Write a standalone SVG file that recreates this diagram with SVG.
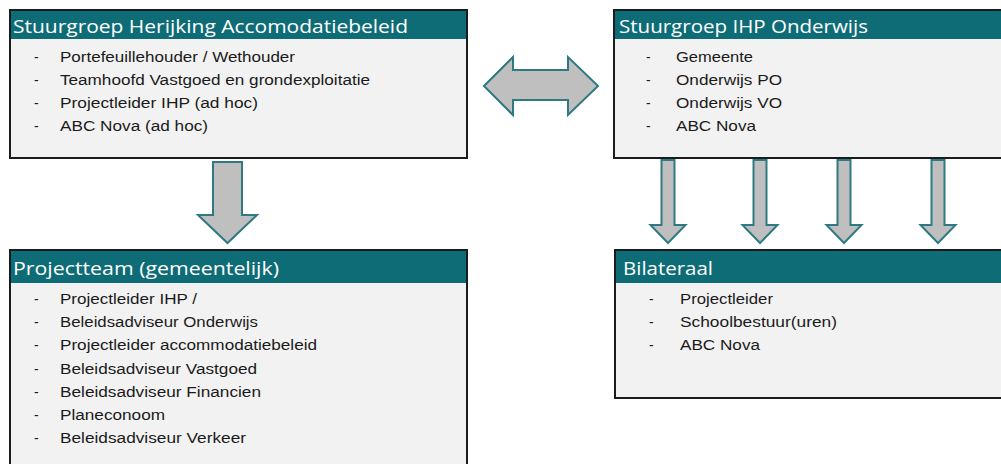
<svg xmlns="http://www.w3.org/2000/svg" width="1001" height="464" viewBox="0 0 1001 464">
<style>
.box{fill:#f2f2f2;stroke:#1c1c1c;stroke-width:2}
.hdr{fill:#0e6c76}
.ht{font-family:"Open Sans","Liberation Sans",sans-serif;font-size:18px;fill:#ffffff}
.it{font-family:"Liberation Sans",Arial,sans-serif;font-size:14px;fill:#1a1a1a}
.arr{fill:#bfbfbf;stroke:#2f7a82;stroke-width:2;stroke-linejoin:miter}
</style>
<rect width="1001" height="464" fill="#ffffff"/>
<g id="connectors">
<polygon class="arr" points="484,86 513,57 513,70 568,70 568,57 598,86 568,115 568,100 513,100 513,115"/>
<polygon class="arr" points="213,162 242,162 242,215 257,215 227.5,243 198,215 213,215"/>
<polygon class="arr" points="661.5,160 674.5,160 674.5,225 685.5,225 668,243 650.5,225 661.5,225"/>
<polygon class="arr" points="753.5,160 766.5,160 766.5,225 777.5,225 760,243 742.5,225 753.5,225"/>
<polygon class="arr" points="837.5,160 850.5,160 850.5,225 861.5,225 844,243 826.5,225 837.5,225"/>
<polygon class="arr" points="931.5,160 944.5,160 944.5,225 955.5,225 938,243 920.5,225 931.5,225"/>
</g>
<g id="stuurgroep-herijking">
<rect class="box" x="10" y="10" width="457" height="148"/>
<rect class="hdr" x="11" y="11" width="455" height="28"/>
<text class="ht" x="13" y="33" textLength="395" lengthAdjust="spacingAndGlyphs">Stuurgroep Herijking Accomodatiebeleid</text>
<text class="it" x="34" y="61.5">-</text><text class="it" x="60" y="61.5" textLength="235" lengthAdjust="spacingAndGlyphs">Portefeuillehouder / Wethouder</text>
<text class="it" x="34" y="85">-</text><text class="it" x="60" y="85" textLength="310" lengthAdjust="spacingAndGlyphs">Teamhoofd Vastgoed en grondexploitatie</text>
<text class="it" x="34" y="108">-</text><text class="it" x="60" y="108" textLength="198" lengthAdjust="spacingAndGlyphs">Projectleider IHP (ad hoc)</text>
<text class="it" x="34" y="131">-</text><text class="it" x="60" y="131" textLength="148" lengthAdjust="spacingAndGlyphs">ABC Nova (ad hoc)</text>
</g>
<g id="stuurgroep-ihp">
<rect class="box" x="614" y="10" width="400" height="148"/>
<rect class="hdr" x="615" y="11" width="398" height="28"/>
<text class="ht" x="619" y="33" textLength="249" lengthAdjust="spacingAndGlyphs">Stuurgroep IHP Onderwijs</text>
<text class="it" x="646" y="61.5">-</text><text class="it" x="676" y="61.5" textLength="77" lengthAdjust="spacingAndGlyphs">Gemeente</text>
<text class="it" x="646" y="85">-</text><text class="it" x="676" y="85" textLength="106" lengthAdjust="spacingAndGlyphs">Onderwijs PO</text>
<text class="it" x="646" y="108">-</text><text class="it" x="676" y="108" textLength="106" lengthAdjust="spacingAndGlyphs">Onderwijs VO</text>
<text class="it" x="646" y="131">-</text><text class="it" x="676" y="131" textLength="80" lengthAdjust="spacingAndGlyphs">ABC Nova</text>
</g>
<g id="projectteam">
<rect class="box" x="10" y="250" width="457" height="230"/>
<rect class="hdr" x="11" y="251" width="455" height="32"/>
<text class="ht" x="13" y="275" textLength="266" lengthAdjust="spacingAndGlyphs">Projectteam (gemeentelijk)</text>
<text class="it" x="34" y="304">-</text><text class="it" x="60" y="304" textLength="137" lengthAdjust="spacingAndGlyphs">Projectleider IHP /</text>
<text class="it" x="34" y="327">-</text><text class="it" x="60" y="327" textLength="198" lengthAdjust="spacingAndGlyphs">Beleidsadviseur Onderwijs</text>
<text class="it" x="34" y="350">-</text><text class="it" x="60" y="350" textLength="257" lengthAdjust="spacingAndGlyphs">Projectleider accommodatiebeleid</text>
<text class="it" x="34" y="373.5">-</text><text class="it" x="60" y="373.5" textLength="197" lengthAdjust="spacingAndGlyphs">Beleidsadviseur Vastgoed</text>
<text class="it" x="34" y="396.5">-</text><text class="it" x="60" y="396.5" textLength="201" lengthAdjust="spacingAndGlyphs">Beleidsadviseur Financien</text>
<text class="it" x="34" y="420">-</text><text class="it" x="60" y="420" textLength="105" lengthAdjust="spacingAndGlyphs">Planeconoom</text>
<text class="it" x="34" y="443">-</text><text class="it" x="60" y="443" textLength="186" lengthAdjust="spacingAndGlyphs">Beleidsadviseur Verkeer</text>
</g>
<g id="bilateraal">
<rect class="box" x="615" y="250" width="400" height="148"/>
<rect class="hdr" x="616" y="251" width="398" height="32"/>
<text class="ht" x="623" y="275" textLength="90" lengthAdjust="spacingAndGlyphs">Bilateraal</text>
<text class="it" x="649" y="304">-</text><text class="it" x="680" y="304" textLength="93" lengthAdjust="spacingAndGlyphs">Projectleider</text>
<text class="it" x="649" y="327">-</text><text class="it" x="680" y="327" textLength="157" lengthAdjust="spacingAndGlyphs">Schoolbestuur(uren)</text>
<text class="it" x="649" y="350">-</text><text class="it" x="680" y="350" textLength="80" lengthAdjust="spacingAndGlyphs">ABC Nova</text>
</g>
</svg>
